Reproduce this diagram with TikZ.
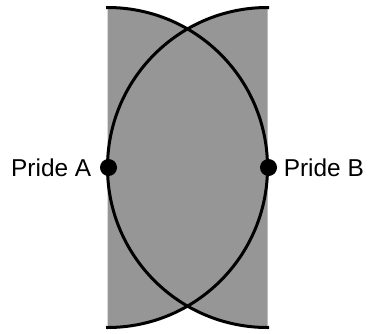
\documentclass[tikz,border=0pt]{standalone}
\usepackage{fontspec}
\setmainfont{Liberation Sans}
\usetikzlibrary{positioning}
\definecolor{stripgray}{RGB}{150,150,150}

\begin{document}
\begin{tikzpicture}[
        x=0.5pt, y=0.5pt,
        pride/.style={circle, fill=black, inner sep=0pt, minimum size=8.5pt},
        lbl/.style={inner sep=0pt, font=\fontsize{12.2}{14}\selectfont},
        arc/.style={line width=1.5pt, draw=black}
    ]
    \useasboundingbox (0,0) rectangle (368,333);

    % shaded strip between the two prides
    \begin{scope}
        \clip (107.5,0) rectangle (267.5,333);
        \fill[stripgray] (107.5,165.5) circle (160) (267.5,165.5) circle (160);
    \end{scope}
    \begin{scope}
        \clip (106,0) rectangle (269,333);
        \draw[arc] (107.5,165.5) circle (160);
        \draw[arc] (267.5,165.5) circle (160);
    \end{scope}

    \node[pride] (prideA) at (108.5,165.5) {};
    \node[pride] (prideB) at (268.5,165.5) {};

    \node[lbl, left=4pt of prideA] (labelA) {Pride A};
    \node[lbl, right=3pt of prideB] (labelB) {Pride B};
\end{tikzpicture}
\end{document}
